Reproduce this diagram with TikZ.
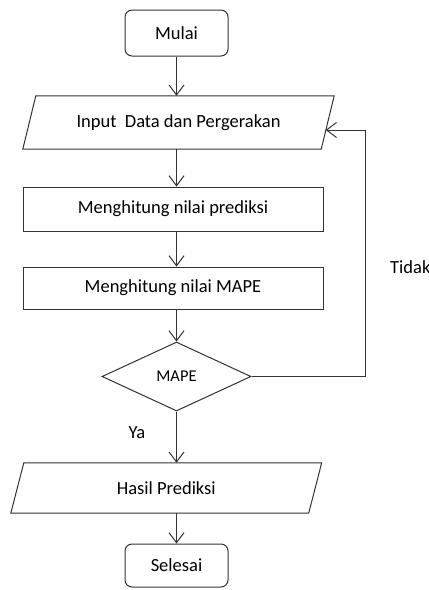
\documentclass[tikz,border=0pt]{standalone}
\usepackage{fontspec}
\setmainfont{Carlito}
\usetikzlibrary{shapes.geometric,arrows.meta,calc}
\begin{document}
\begin{tikzpicture}[x=1pt,y=-1pt,
  txt/.style={font=\fontsize{18.5}{20}\selectfont, text=black},
  line/.style={draw=black!80, line width=1pt},
  arr/.style={line, -{Straight Barb[length=10pt,width=15pt,line width=1pt]}},
  term/.style={line, txt, rounded corners=7pt, minimum width=103pt, inner sep=0pt},
  proc/.style={line, txt, minimum width=300pt, inner sep=0pt},
  iobox/.style={txt, inner sep=0pt},
  dec/.style={line, diamond, inner sep=0pt, minimum width=149pt, minimum height=69pt, aspect=2.16, font=\fontsize{16.5}{18}\selectfont, text=black},
  lbl/.style={txt}]
\useasboundingbox (0,0) rectangle (429,590);

\node[term, minimum height=46pt] (mulai) at (176.5,33) {Mulai};
\node[iobox, minimum width=298pt, minimum height=53pt] (in) at (178.5,122.5) {Input\ \ Data dan Pergerakan};
\draw[line] ([xshift=6.5pt]in.north west) -- ([xshift=6.5pt]in.north east) -- ([xshift=-6.5pt]in.south east) -- ([xshift=-6.5pt]in.south west) -- cycle;
\node[proc, minimum height=44pt] (p1) at (173,209) {Menghitung nilai prediksi};
\node[proc, minimum height=42pt] (p2) at (173,288) {Menghitung nilai MAPE};
\node[dec] (d) at (176.5,376.5) {MAPE};
\node[iobox, minimum width=297.5pt, minimum height=50pt] (out) at (166.25,488) {Hasil Prediksi};
\draw[line] ([xshift=6.5pt]out.north west) -- ([xshift=6.5pt]out.north east) -- ([xshift=-6.5pt]out.south east) -- ([xshift=-6.5pt]out.south west) -- cycle;
\node[term, minimum height=43pt] (sel) at (176.5,565.5) {Selesai};

\coordinate (loopin) at (325.7,130);

\draw[arr] (mulai.south) -- (mulai.south |- in.north);
\draw[arr] (mulai.south |- in.south) -- (mulai.south |- p1.north);
\draw[arr] (mulai.south |- p1.south) -- (mulai.south |- p2.north);
\draw[arr] (d.north |- p2.south) -- (d.north);
\draw[arr] (d.south) -- (d.south |- out.north);
\draw[arr] (d.south |- out.south) -- (sel.north);
\draw[arr] (d.east) -- ++(114,0) |- (loopin);

\node[lbl] (ya) at (137,433) {Ya};
\node[lbl, anchor=west, inner sep=0pt] (tidak) at (390,267) {Tidak};
\end{tikzpicture}
\end{document}
